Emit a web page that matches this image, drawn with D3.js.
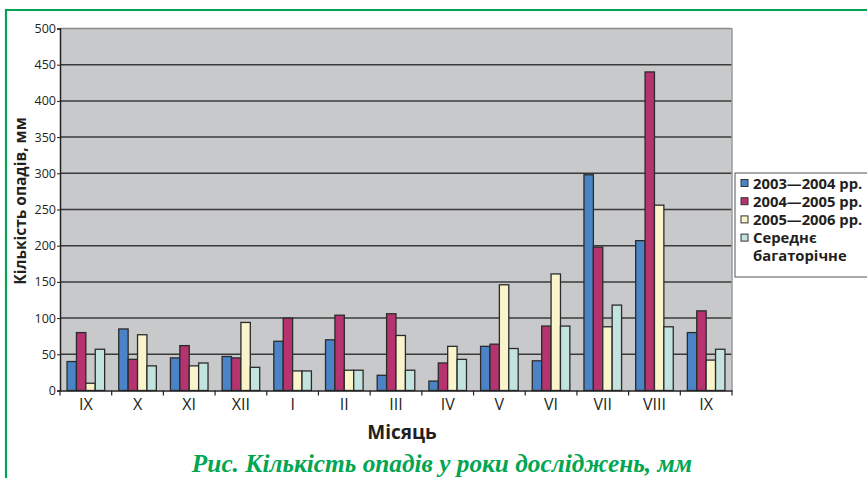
<!DOCTYPE html>
<html><head><meta charset="utf-8">
<script src="https://cdn.jsdelivr.net/npm/d3@7"></script>
<style>body{margin:0;background:#fff;}svg{display:block;}</style>
</head><body>
<svg id="c" width="867" height="478"></svg>
<script>
const months = ["IX","X","XI","XII","I","II","III","IV","V","VI","VII","VIII","IX"];
const seriesNames = ["2003—2004 рр.","2004—2005 рр.","2005—2006 рр.","Середнє багаторічне"];
const s2003 = [40,85,45,47,68,70,21,13,61,41,298,207,80];
const s2004 = [80,43,62,45,100,104,106,38,64,89,198,440,110];
const s2005 = [10,77,34,94,27,28,76,61,146,161,88,256,42];
const sAvg  = [57,34,38,32,27,28,28,43,58,89,118,88,57];
const yTicks = [0,50,100,150,200,250,300,350,400,450,500];
const colors = ["#4a84c6","#b5336f","#faf4cc","#c3e3df"];

const series = [s2003,s2004,s2005,sAvg];
const svg = d3.select("#c");
const m = {l:60, r:732, t:28.5, b:390.5};

// green frame
svg.append("path").attr("d","M6,480 V10 H870").attr("fill","none").attr("stroke","#00a651").attr("stroke-width",2.2);

const x0 = d3.scaleBand().domain(d3.range(months.length)).range([m.l,m.r]).paddingInner(0).paddingOuter(0);
// gap 150% of bar width -> bars occupy 4/5.5 of category
const bw = x0.bandwidth()/5.5;
const y = d3.scaleLinear().domain([0,500]).range([m.b,m.t]);

svg.append("rect").attr("x",m.l).attr("y",m.t).attr("width",m.r-m.l).attr("height",m.b-m.t).attr("fill","#c8c9cb");

// gridlines
svg.append("g").selectAll("line").data(yTicks.filter(d=>d>0)).join("line")
  .attr("x1",m.l).attr("x2",m.r).attr("y1",d=>y(d)).attr("y2",d=>y(d))
  .attr("stroke",d=>d===500?"#8a8a8a":"#3a3a3a").attr("stroke-width",1.5);
// right border
svg.append("line").attr("x1",m.r).attr("x2",m.r).attr("y1",m.t).attr("y2",m.b).attr("stroke","#9a9a9a").attr("stroke-width",1.5);

// bars
const g = svg.append("g");
series.forEach((s,si)=>{
  g.selectAll(null).data(s).join("rect")
    .attr("x",(d,i)=>x0(i)+0.75*bw+si*bw)
    .attr("y",d=>y(d))
    .attr("width",bw)
    .attr("height",d=>y(0)-y(d))
    .attr("fill",colors[si]).attr("stroke","#2b2b2b").attr("stroke-width",1.3);
});

// y axis
const ya = svg.append("g").attr("transform",`translate(${m.l},0)`)
  .call(d3.axisLeft(y).tickValues(yTicks).tickSize(3).tickPadding(1));
ya.select(".domain").attr("stroke","#222").attr("stroke-width",1.5);
ya.selectAll("line").attr("stroke","#222");
ya.selectAll("text").attr("font-family","Open Sans").attr("font-size",12.5).attr("fill","#231f20");

// x axis
const xa = svg.append("g").attr("transform",`translate(0,${m.b})`)
  .call(d3.axisBottom(x0).tickFormat(i=>months[i]).tickSize(0).tickPadding(8));
xa.select(".domain").attr("stroke","#222").attr("stroke-width",1.5);
xa.selectAll("text").attr("font-family","Open Sans").attr("font-size",16).attr("fill","#231f20");
svg.append("g").selectAll("line").data(d3.range(months.length+1)).join("line")
  .attr("x1",i=>m.l+i*x0.bandwidth()).attr("x2",i=>m.l+i*x0.bandwidth())
  .attr("y1",m.b).attr("y2",m.b+5).attr("stroke","#222").attr("stroke-width",1.2);

// axis titles
svg.append("text").attr("x",402).attr("y",439).attr("text-anchor","middle")
  .attr("font-family","Open Sans").attr("font-weight","bold").attr("font-size",19).attr("fill","#231f20").text("Місяць");
svg.append("text").attr("transform","translate(26,201) rotate(-90)").attr("text-anchor","middle")
  .attr("font-family","Open Sans").attr("font-weight","bold").attr("font-size",15.5).attr("fill","#231f20").text("Кількість опадів, мм");

// caption
svg.append("text").attr("x",442).attr("y",472).attr("text-anchor","middle")
  .attr("font-family","Liberation Serif").attr("font-style","italic").attr("font-weight","bold")
  .attr("font-size",25.3).attr("fill","#00a651").text("Рис. Кількість опадів у роки досліджень, мм");

// legend
const lg = svg.append("g");
lg.append("rect").attr("x",735).attr("y",173).attr("width",140).attr("height",104).attr("fill","#fff").attr("stroke","#555").attr("stroke-width",1);
const rows = [[0,"2003—2004 рр."],[1,"2004—2005 рр."],[2,"2005—2006 рр."],[3,"Середнє"],[-1,"багаторічне"]];
rows.forEach((r,i)=>{
  const cy = 183+i*18.2;
  if(r[0]>=0) lg.append("rect").attr("x",741).attr("y",cy-3.5).attr("width",7).attr("height",7)
    .attr("fill",colors[r[0]]).attr("stroke","#333").attr("stroke-width",1);
  lg.append("text").attr("x",753).attr("y",cy+5.5).attr("font-family","Open Sans").attr("font-weight","bold")
    .attr("font-size",14.8).attr("fill","#231f20").text(r[1]);
});
</script>
</body></html>
